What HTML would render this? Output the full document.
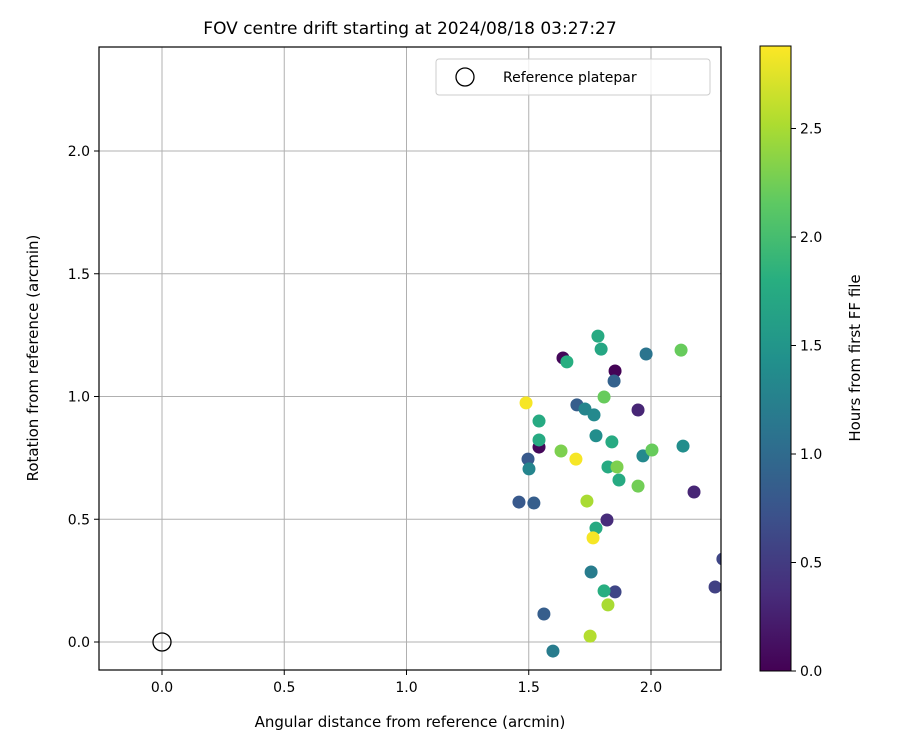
<!DOCTYPE html>
<html><head><meta charset="utf-8"><style>
body{margin:0;background:#fff}
svg text{font-family:"DejaVu Sans","Liberation Sans",sans-serif;fill:#000}
</style></head><body>
<svg id="chart" width="900" height="750" xmlns="http://www.w3.org/2000/svg">
<defs>
<clipPath id="clip"><rect x="99" y="47" width="622" height="623"/></clipPath>
<linearGradient id="vir" x1="0" y1="1" x2="0" y2="0">
<stop offset="0" stop-color="#440154"/><stop offset="0.125" stop-color="#472d7b"/><stop offset="0.25" stop-color="#3b528b"/><stop offset="0.375" stop-color="#2c728e"/><stop offset="0.5" stop-color="#21918c"/><stop offset="0.625" stop-color="#28ae80"/><stop offset="0.75" stop-color="#5ec962"/><stop offset="0.875" stop-color="#addc30"/><stop offset="1" stop-color="#fde725"/>
</linearGradient>
</defs>
<text x="410" y="34" font-size="17" text-anchor="middle">FOV centre drift starting at 2024/08/18 03:27:27</text>
<g id="grid"></g>
<g id="marks" clip-path="url(#clip)"></g>
<rect x="99" y="47" width="622" height="623" fill="none" stroke="#000" stroke-width="1.2"/>
<g id="ticks"></g>
<text x="410" y="727" font-size="15" text-anchor="middle">Angular distance from reference (arcmin)</text>
<text transform="translate(38,358) rotate(-90)" font-size="15" text-anchor="middle">Rotation from reference (arcmin)</text>
<g>
<rect x="436" y="59" width="274" height="36" rx="3" fill="#fff" fill-opacity="0.8" stroke="#ccc"/>
<circle cx="465" cy="77" r="9" fill="none" stroke="#000" stroke-width="1.3"/>
<text x="503" y="82" font-size="14">Reference platepar</text>
</g>
<rect x="760" y="46" width="31" height="625" fill="url(#vir)" stroke="#000" stroke-width="1"/>
<g id="cbticks"></g>
<text transform="translate(860,358) rotate(-90)" font-size="15" text-anchor="middle">Hours from first FF file</text>
</svg>
<script>
const xs=[1.783,1.796,1.640,1.656,1.980,2.123,1.853,1.849,1.808,1.489,1.697,1.730,1.767,1.947,1.542,1.542,1.542,1.775,1.840,1.632,1.693,1.497,1.501,1.967,2.004,2.131,1.824,1.861,1.869,1.947,2.176,1.460,1.521,1.738,1.820,1.775,1.763,1.755,1.853,1.808,1.824,1.562,2.262,2.294,1.751,1.599];
const ys=[1.246,1.193,1.157,1.141,1.173,1.189,1.104,1.063,0.998,0.974,0.966,0.949,0.925,0.945,0.900,0.794,0.823,0.840,0.815,0.778,0.745,0.745,0.705,0.758,0.782,0.798,0.713,0.713,0.660,0.635,0.611,0.570,0.566,0.574,0.497,0.464,0.424,0.285,0.204,0.208,0.151,0.114,0.224,0.338,0.024,-0.037];
const hours=[1.75,1.7,0.05,1.8,1.1,2.2,0.02,0.9,2.2,2.85,0.85,1.3,1.35,0.3,1.75,0.05,1.75,1.4,1.75,2.3,2.85,0.8,1.3,1.35,2.2,1.4,1.75,2.3,1.75,2.25,0.3,0.8,0.85,2.5,0.35,1.75,2.85,1.2,0.6,1.8,2.5,0.85,0.55,0.6,2.55,1.2];
const xTicks=[0,0.5,1.0,1.5,2.0];
const yTicks=[0,0.5,1.0,1.5,2.0];
const cTicks=[0,0.5,1.0,1.5,2.0,2.5];
const X=v=>162+v*244.5, Y=v=>642-v*245.5, C=v=>671-v*217;
const cmax=2.88;
const vir=[[68,1,84],[71,45,123],[59,82,139],[44,114,142],[33,145,140],[40,174,128],[94,201,98],[173,220,48],[253,231,37]];
function col(h){let t=Math.max(0,Math.min(1,h/cmax))*8,i=Math.min(7,Math.floor(t)),f=t-i;
return 'rgb('+vir[i].map((c,k)=>Math.round(c+(vir[i+1][k]-c)*f)).join(',')+')';}
const NS='http://www.w3.org/2000/svg';
function mk(tag,at,parent){const e=document.createElementNS(NS,tag);for(const k in at)e.setAttribute(k,at[k]);document.getElementById(parent).appendChild(e);return e;}
xTicks.forEach(v=>{
 const g=mk('line',{x1:X(v),x2:X(v),y1:47,y2:670,stroke:'#b0b0b0','stroke-width':1},'grid');
 
 
 mk('line',{x1:X(v),x2:X(v),y1:670,y2:675,stroke:'#000'},'ticks');
 const t=mk('text',{x:X(v),y:692,'font-size':14,'text-anchor':'middle'},'ticks');t.textContent=v.toFixed(1);
 
 
});
yTicks.forEach(v=>{
 const g=mk('line',{x1:99,x2:721,y1:Y(v),y2:Y(v),stroke:'#b0b0b0','stroke-width':1},'grid');
 
 
 mk('line',{x1:94,x2:99,y1:Y(v),y2:Y(v),stroke:'#000'},'ticks');
 const t=mk('text',{x:90,y:Y(v)+5,'font-size':14,'text-anchor':'end'},'ticks');t.textContent=v.toFixed(1);
 
 
});
cTicks.forEach(v=>{
 mk('line',{x1:791,x2:796,y1:C(v),y2:C(v),stroke:'#000'},'cbticks');
 const t=mk('text',{x:800,y:C(v)+5,'font-size':14},'cbticks');t.textContent=v.toFixed(1);
 
 
});
xs.forEach((x,i)=>{
 const c=mk('circle',{cx:X(x),cy:Y(ys[i]),r:6.5,fill:col(hours[i])},'marks');
 
 
});
const r=mk('circle',{cx:X(0),cy:Y(0),r:9,fill:'none',stroke:'#000','stroke-width':1.3},'marks');


</script>
</body></html>
